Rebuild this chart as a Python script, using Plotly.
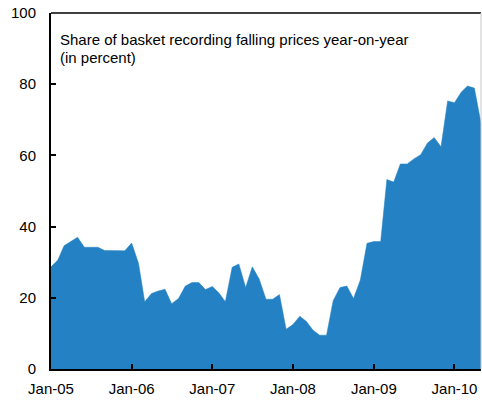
import pandas as pd
import plotly.graph_objects as go

months = pd.date_range("2005-01-01", "2010-05-01", freq="MS")
share_falling = [
    28.7, 30.6, 34.6, 35.9, 37.0, 34.2, 34.2, 34.2, 33.3, 33.2, 33.2, 33.2,
    35.4, 29.7, 18.9, 21.2, 21.9, 22.4, 18.3, 19.8, 23.3, 24.3, 24.3, 22.3,
    23.2, 21.3, 18.9, 28.6, 29.5, 22.9, 28.7, 25.3, 19.6, 19.6, 20.9, 11.2,
    12.5, 14.8, 13.4, 10.9, 9.5, 9.5, 19.2, 22.9, 23.3, 19.8, 25.0, 35.3,
    35.8, 35.8, 53.2, 52.5, 57.6, 57.6, 59.0, 60.2, 63.5, 65.0, 62.4, 75.3,
    74.8, 77.8, 79.5, 78.9, 69.0,
]
x_tickvals = ["2005-01-01", "2006-01-01", "2007-01-01", "2008-01-01", "2009-01-01", "2010-01-01"]
x_ticktext = ["Jan-05", "Jan-06", "Jan-07", "Jan-08", "Jan-09", "Jan-10"]
y_tickvals = [0, 20, 40, 60, 80, 100]
title_lines = ["Share of basket recording falling prices year-on-year", "(in percent)"]

FILL = "#2481c3"
FONT = "Liberation Sans, Arial, sans-serif"

fig = go.Figure()
fig.add_trace(go.Scatter(
    x=months, y=share_falling, mode="lines", fill="tozeroy",
    line=dict(color=FILL, width=0.5), fillcolor=FILL, hoverinfo="x+y",
    showlegend=False,
))

fig.update_layout(
    width=482, height=400,
    margin=dict(l=51, r=1, t=13, b=31),
    paper_bgcolor="white", plot_bgcolor="white",
    font=dict(family=FONT, size=15, color="black"),
    xaxis=dict(
        range=["2005-01-01", "2010-05-01"],
        tickvals=x_tickvals, ticktext=x_ticktext,
        ticks="inside", ticklen=5, tickwidth=1.5, tickcolor="black",
        showline=True, linecolor="black", linewidth=2,
        showgrid=False, zeroline=False,
        tickfont=dict(size=15),
        ticklabelstandoff=5,
    ),
    yaxis=dict(
        range=[0, 100], tickvals=y_tickvals,
        ticks="inside", ticklen=5, tickwidth=1.5, tickcolor="black",
        showline=True, linecolor="black", linewidth=2,
        showgrid=False, zeroline=False,
        tickfont=dict(size=15),
        ticklabelstandoff=10,
    ),
    shapes=[
        dict(type="line", xref="x domain", yref="y domain", x0=0, x1=1, y0=1, y1=1,
             line=dict(color="black", width=1.5)),
        dict(type="line", xref="x domain", yref="y domain", x0=1, x1=1, y0=0, y1=1,
             line=dict(color="#c8c8c8", width=1)),
    ],
    annotations=[
        dict(text=title_lines[0], xref="x domain", yref="y domain", x=0.016, y=0.9255,
             xanchor="left", yanchor="middle", align="left", showarrow=False,
             font=dict(family=FONT, size=15, color="black")),
        dict(text=title_lines[1], xref="x domain", yref="y domain", x=0.016, y=0.8744,
             xanchor="left", yanchor="middle", align="left", showarrow=False,
             font=dict(family=FONT, size=15, color="black")),
    ],
)

fig.write_html(
    "out.html",
    config={"displayModeBar": False},
    post_script="document.body.style.margin='0';document.body.style.padding='0';",
)
